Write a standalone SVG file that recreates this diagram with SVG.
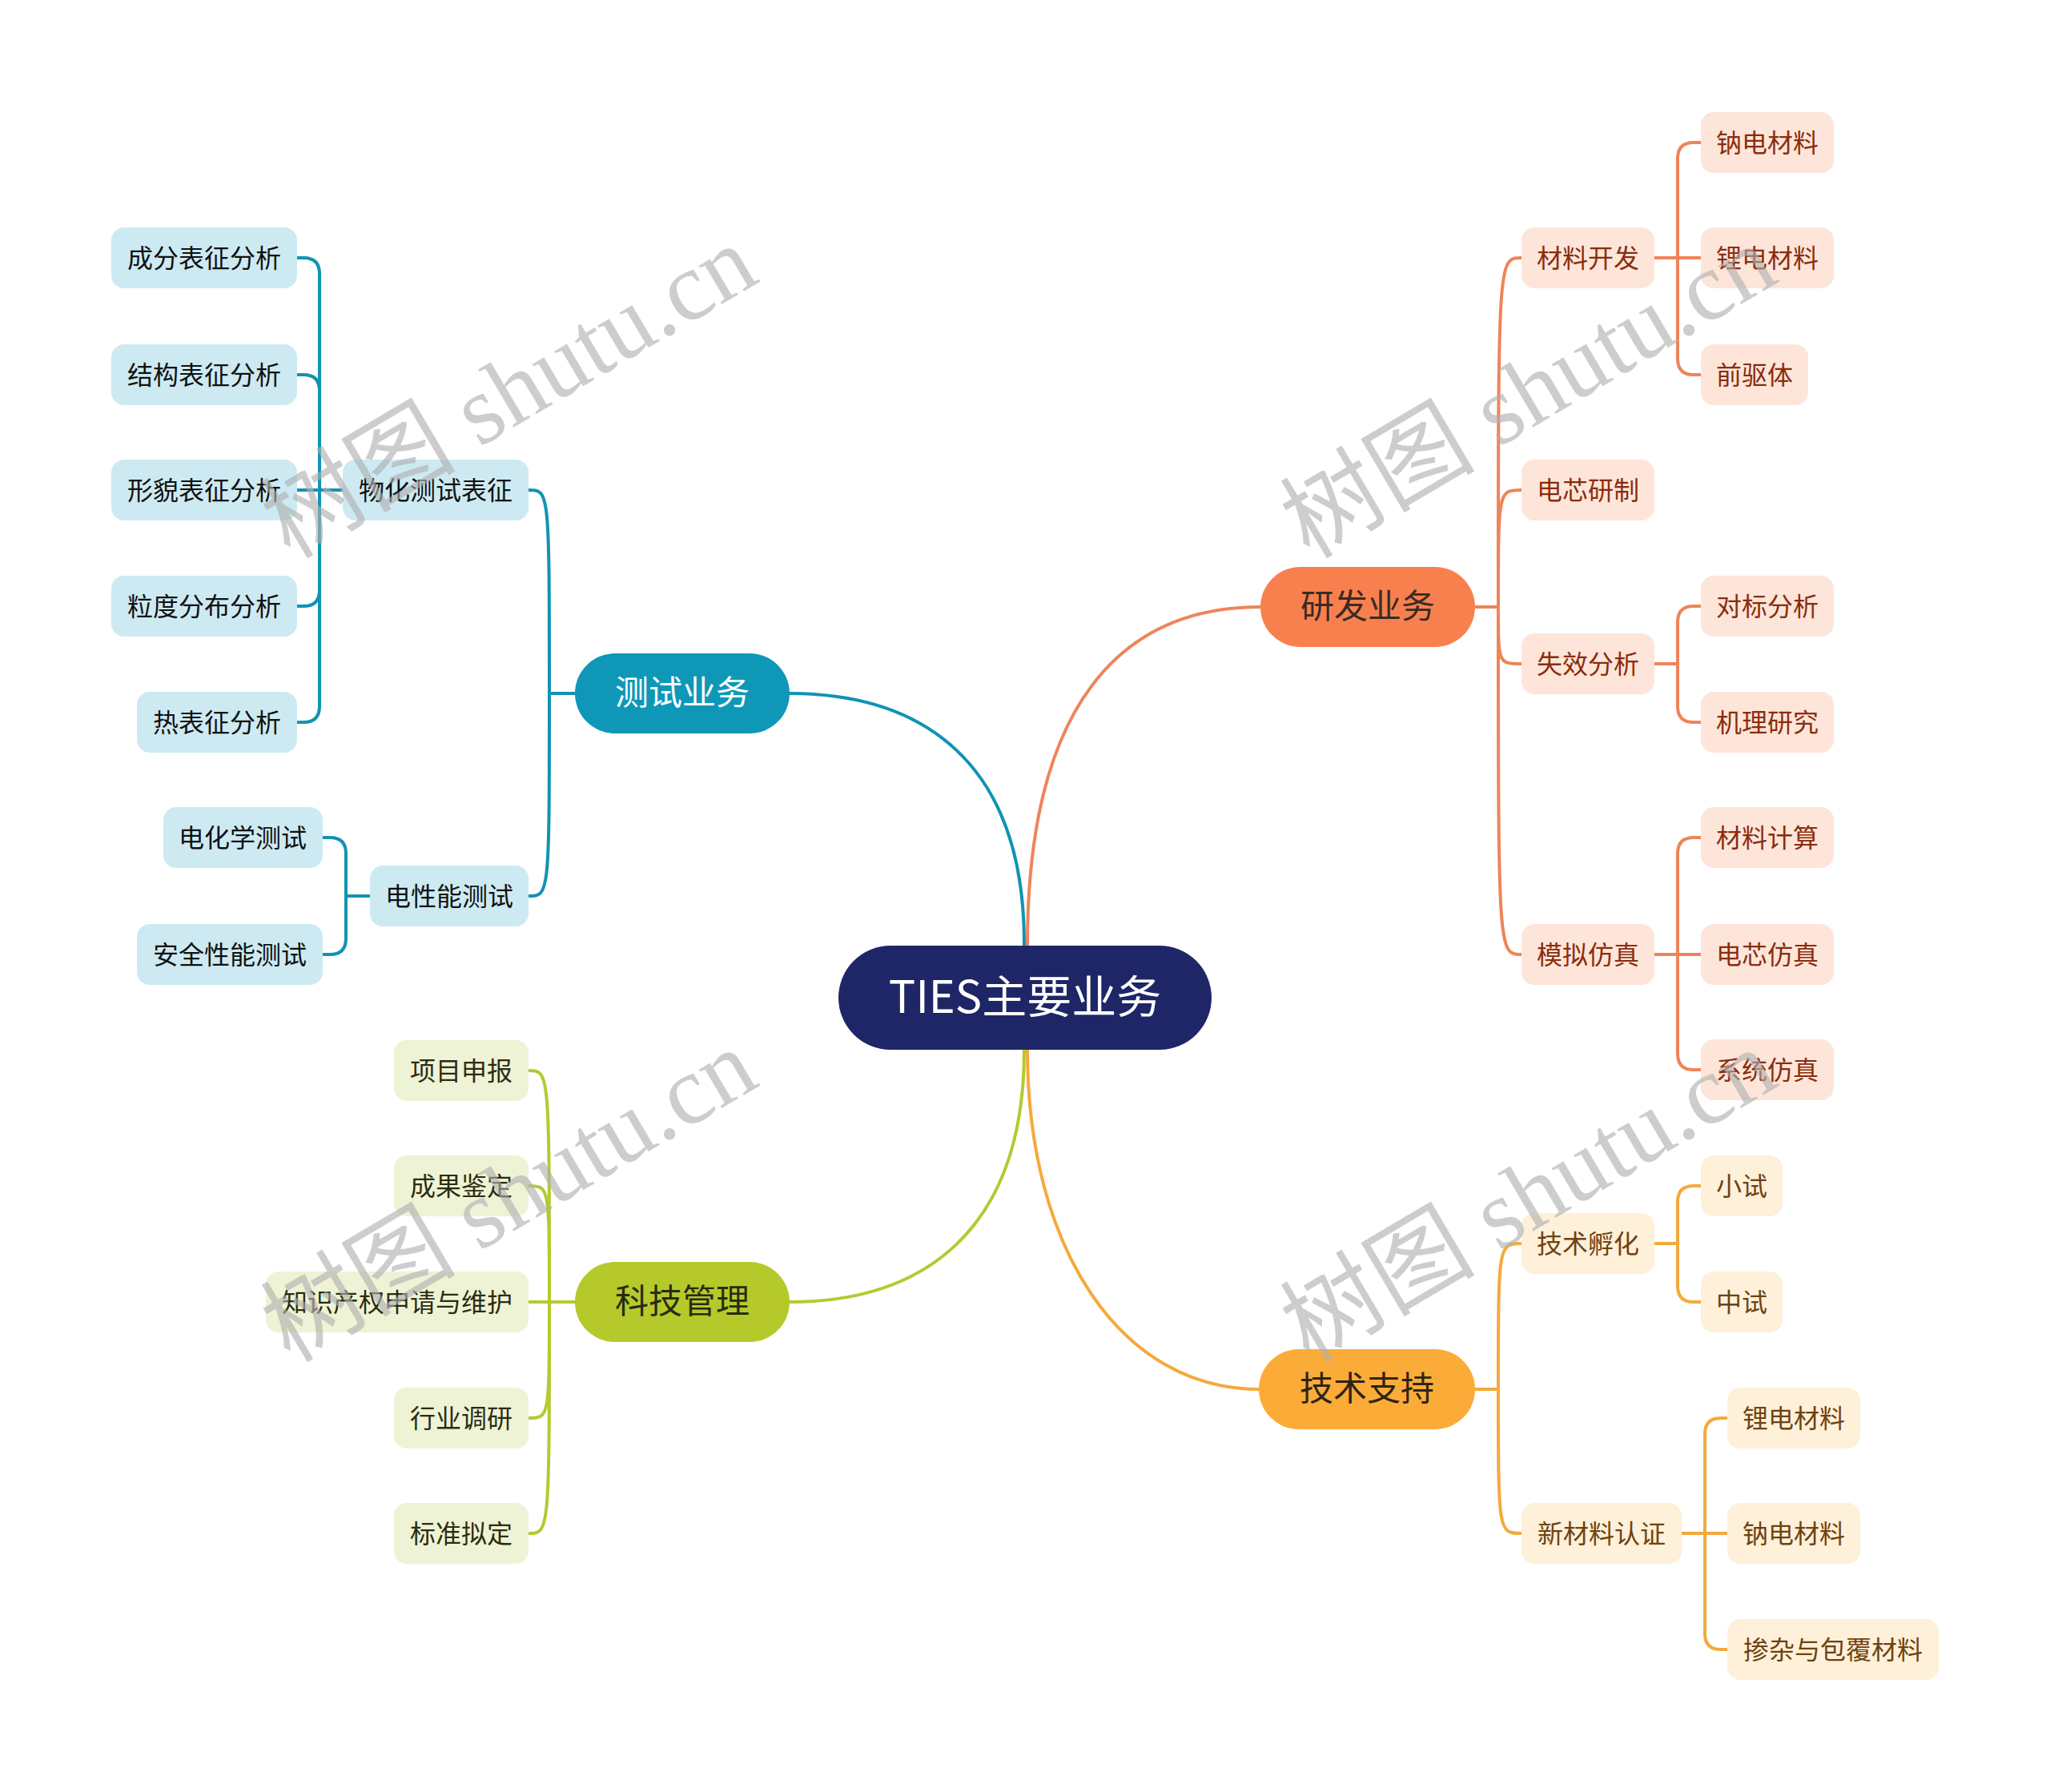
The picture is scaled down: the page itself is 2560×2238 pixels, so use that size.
<svg xmlns="http://www.w3.org/2000/svg" width="2560" height="2238" viewBox="0 0 2560 2238">
<style>
text{font-family:"Noto Sans CJK SC","Noto Sans",sans-serif;text-anchor:middle;dominant-baseline:central}
.l{fill:none;stroke-width:4;stroke-linecap:round;stroke-linejoin:round}
.lb{stroke:#1193b3}.lo{stroke:#ef8459}.lg{stroke:#b6c930}.ly{stroke:#f5a93c}
.t2{font-size:32px}
.t1{font-size:42px}
.nb rect{fill:#cdeaf3}.nb text{fill:#111}
.ng rect{fill:#eef3d5}.ng text{fill:#2b2c12}
.no rect{fill:#fde5da}.no text{fill:#8b2c0c}
.ny rect{fill:#fef0d9}.ny text{fill:#6e4210}
.wm{font-family:"Liberation Serif","Noto Sans CJK SC",serif;font-size:122px;fill:#b0b0b0;opacity:0.62;text-anchor:start;dominant-baseline:auto}
</style>
<rect width="2560" height="2238" fill="#ffffff"/>
<g id="connectors">
<path class="l lb" d="M986 866 C1150 866 1280 950 1279 1181"/>
<path class="l lo" d="M1574 758 C1400 758 1283 880 1283 1181"/>
<path class="l lg" d="M986 1626 C1150 1626 1279 1540 1279 1311"/>
<path class="l ly" d="M1283 1311 C1283 1560 1400 1735 1572 1735"/>
<path class="l lb" d="M718 866 L686 866"/>
<path class="l lb" d="M686 866 C686 612 686 612 660 612"/>
<path class="l lb" d="M686 866 C686 1119 686 1119 660 1119"/>
<path class="l lb" d="M428 612 L371 612"/>
<path class="l lb" d="M399 612 L399 342 Q399 322 379 322 L371 322"/>
<path class="l lb" d="M399 612 L399 488 Q399 468 379 468 L371 468"/>
<path class="l lb" d="M399 612 L399 737 Q399 757 379 757 L371 757"/>
<path class="l lb" d="M399 612 L399 882 Q399 902 379 902 L371 902"/>
<path class="l lb" d="M462 1119 L432 1119"/>
<path class="l lb" d="M432 1119 L432 1066 Q432 1046 412 1046 L403 1046"/>
<path class="l lb" d="M432 1119 L432 1172 Q432 1192 412 1192 L403 1192"/>
<path class="l lg" d="M718 1626 L660 1626"/>
<path class="l lg" d="M686 1626 C686 1337 686 1337 660 1337"/>
<path class="l lg" d="M686 1626 C686 1481 686 1481 660 1481"/>
<path class="l lg" d="M686 1626 C686 1771 686 1771 660 1771"/>
<path class="l lg" d="M686 1626 C686 1915 686 1915 660 1915"/>
<path class="l lo" d="M1842 758 L1871 758"/>
<path class="l lo" d="M1871 758 C1871 322 1871 322 1900 322"/>
<path class="l lo" d="M1871 758 C1871 612 1871 612 1900 612"/>
<path class="l lo" d="M1871 758 C1871 829 1871 829 1900 829"/>
<path class="l lo" d="M1871 758 C1871 1192 1871 1192 1900 1192"/>
<path class="l lo" d="M2066 322 L2124 322"/>
<path class="l lo" d="M2095 322 L2095 198 Q2095 178 2115 178 L2124 178"/>
<path class="l lo" d="M2095 322 L2095 448 Q2095 468 2115 468 L2124 468"/>
<path class="l lo" d="M2066 829 L2095 829"/>
<path class="l lo" d="M2095 829 L2095 777 Q2095 757 2115 757 L2124 757"/>
<path class="l lo" d="M2095 829 L2095 882 Q2095 902 2115 902 L2124 902"/>
<path class="l lo" d="M2066 1192 L2124 1192"/>
<path class="l lo" d="M2095 1192 L2095 1066 Q2095 1046 2115 1046 L2124 1046"/>
<path class="l lo" d="M2095 1192 L2095 1316 Q2095 1336 2115 1336 L2124 1336"/>
<path class="l ly" d="M1842 1735 L1871 1735"/>
<path class="l ly" d="M1871 1735 C1871 1553 1871 1553 1900 1553"/>
<path class="l ly" d="M1871 1735 C1871 1915 1871 1915 1900 1915"/>
<path class="l ly" d="M2066 1553 L2095 1553"/>
<path class="l ly" d="M2095 1553 L2095 1501 Q2095 1481 2115 1481 L2124 1481"/>
<path class="l ly" d="M2095 1553 L2095 1606 Q2095 1626 2115 1626 L2124 1626"/>
<path class="l ly" d="M2100 1915 L2157 1915"/>
<path class="l ly" d="M2129 1915 L2129 1791 Q2129 1771 2149 1771 L2157 1771"/>
<path class="l ly" d="M2129 1915 L2129 2040 Q2129 2060 2149 2060 L2157 2060"/>
</g>
<g id="root"><rect x="1047" y="1181" width="466" height="130" rx="65" fill="#1f2667"/><text x="1280" y="1240" font-size="56" fill="#ffffff">TIES主要业务</text></g>
<g id="n-test"><rect x="718" y="816" width="268" height="100" rx="50" fill="#0f97b8"/><text class="t1" x="852" y="861" fill="#ffffff">测试业务</text></g>
<g id="n-rd"><rect x="1574" y="708" width="268" height="100" rx="50" fill="#f8804f"/><text class="t1" x="1708" y="753" fill="#3a2b24">研发业务</text></g>
<g id="n-mgmt"><rect x="718" y="1576" width="268" height="100" rx="50" fill="#b5c92b"/><text class="t1" x="852" y="1621" fill="#272c10">科技管理</text></g>
<g id="n-tech"><rect x="1572" y="1685" width="270" height="100" rx="50" fill="#fbab38"/><text class="t1" x="1707" y="1730" fill="#2e2415">技术支持</text></g>
<g class="nb">
<g id="n-wh"><rect x="428" y="574" width="232" height="76" rx="16"/><text class="t2" x="544" y="610">物化测试表征</text></g>
<g id="n-dx"><rect x="462" y="1081" width="198" height="76" rx="16"/><text class="t2" x="561" y="1117">电性能测试</text></g>
<g id="n-cf"><rect x="139" y="284" width="232" height="76" rx="16"/><text class="t2" x="255" y="320">成分表征分析</text></g>
<g id="n-jg"><rect x="139" y="430" width="232" height="76" rx="16"/><text class="t2" x="255" y="466">结构表征分析</text></g>
<g id="n-xm"><rect x="139" y="574" width="232" height="76" rx="16"/><text class="t2" x="255" y="610">形貌表征分析</text></g>
<g id="n-ld"><rect x="139" y="719" width="232" height="76" rx="16"/><text class="t2" x="255" y="755">粒度分布分析</text></g>
<g id="n-rb"><rect x="171" y="864" width="200" height="76" rx="16"/><text class="t2" x="271" y="900">热表征分析</text></g>
<g id="n-dhx"><rect x="204" y="1008" width="199" height="76" rx="16"/><text class="t2" x="303" y="1044">电化学测试</text></g>
<g id="n-aq"><rect x="171" y="1154" width="232" height="76" rx="16"/><text class="t2" x="287" y="1190">安全性能测试</text></g>
</g>
<g class="ng">
<g id="n-xmsb"><rect x="492" y="1299" width="168" height="76" rx="16"/><text class="t2" x="576" y="1335">项目申报</text></g>
<g id="n-cgjd"><rect x="492" y="1443" width="168" height="76" rx="16"/><text class="t2" x="576" y="1479">成果鉴定</text></g>
<g id="n-zscq"><rect x="332" y="1588" width="328" height="76" rx="16"/><text class="t2" x="496" y="1624">知识产权申请与维护</text></g>
<g id="n-hydy"><rect x="492" y="1733" width="168" height="76" rx="16"/><text class="t2" x="576" y="1769">行业调研</text></g>
<g id="n-bznd"><rect x="492" y="1877" width="168" height="76" rx="16"/><text class="t2" x="576" y="1913">标准拟定</text></g>
</g>
<g class="no">
<g id="n-clkf"><rect x="1900" y="284" width="166" height="76" rx="16"/><text class="t2" x="1983" y="320">材料开发</text></g>
<g id="n-dxyz"><rect x="1900" y="574" width="166" height="76" rx="16"/><text class="t2" x="1983" y="610">电芯研制</text></g>
<g id="n-sxfx"><rect x="1900" y="791" width="166" height="76" rx="16"/><text class="t2" x="1983" y="827">失效分析</text></g>
<g id="n-mnfz"><rect x="1900" y="1154" width="166" height="76" rx="16"/><text class="t2" x="1983" y="1190">模拟仿真</text></g>
<g id="n-nd1"><rect x="2124" y="140" width="166" height="76" rx="16"/><text class="t2" x="2207" y="176">钠电材料</text></g>
<g id="n-ld1"><rect x="2124" y="284" width="166" height="76" rx="16"/><text class="t2" x="2207" y="320">锂电材料</text></g>
<g id="n-qqt"><rect x="2124" y="430" width="134" height="76" rx="16"/><text class="t2" x="2191" y="466">前驱体</text></g>
<g id="n-dbfx"><rect x="2124" y="719" width="166" height="76" rx="16"/><text class="t2" x="2207" y="755">对标分析</text></g>
<g id="n-jlyj"><rect x="2124" y="864" width="166" height="76" rx="16"/><text class="t2" x="2207" y="900">机理研究</text></g>
<g id="n-cljs"><rect x="2124" y="1008" width="166" height="76" rx="16"/><text class="t2" x="2207" y="1044">材料计算</text></g>
<g id="n-dxfz"><rect x="2124" y="1154" width="166" height="76" rx="16"/><text class="t2" x="2207" y="1190">电芯仿真</text></g>
<g id="n-xtfz"><rect x="2124" y="1298" width="166" height="76" rx="16"/><text class="t2" x="2207" y="1334">系统仿真</text></g>
</g>
<g class="ny">
<g id="n-jsfh"><rect x="1900" y="1515" width="166" height="76" rx="16"/><text class="t2" x="1983" y="1551">技术孵化</text></g>
<g id="n-xclrz"><rect x="1900" y="1877" width="200" height="76" rx="16"/><text class="t2" x="2000" y="1913">新材料认证</text></g>
<g id="n-xs"><rect x="2124" y="1443" width="102" height="76" rx="16"/><text class="t2" x="2175" y="1479">小试</text></g>
<g id="n-zs"><rect x="2124" y="1588" width="102" height="76" rx="16"/><text class="t2" x="2175" y="1624">中试</text></g>
<g id="n-ld2"><rect x="2157" y="1733" width="166" height="76" rx="16"/><text class="t2" x="2240" y="1769">锂电材料</text></g>
<g id="n-nd2"><rect x="2157" y="1877" width="166" height="76" rx="16"/><text class="t2" x="2240" y="1913">钠电材料</text></g>
<g id="n-cz"><rect x="2157" y="2022" width="264" height="76" rx="16"/><text class="t2" x="2289" y="2058">掺杂与包覆材料</text></g>
</g>
<g id="watermarks">
<text class="wm" transform="translate(362 699) rotate(-30.6)">树图 shutu.cn</text>
<text class="wm" transform="translate(1635 699) rotate(-30.6)">树图 shutu.cn</text>
<text class="wm" transform="translate(362 1703) rotate(-30.6)">树图 shutu.cn</text>
<text class="wm" transform="translate(1635 1703) rotate(-30.6)">树图 shutu.cn</text>
</g>
</svg>
